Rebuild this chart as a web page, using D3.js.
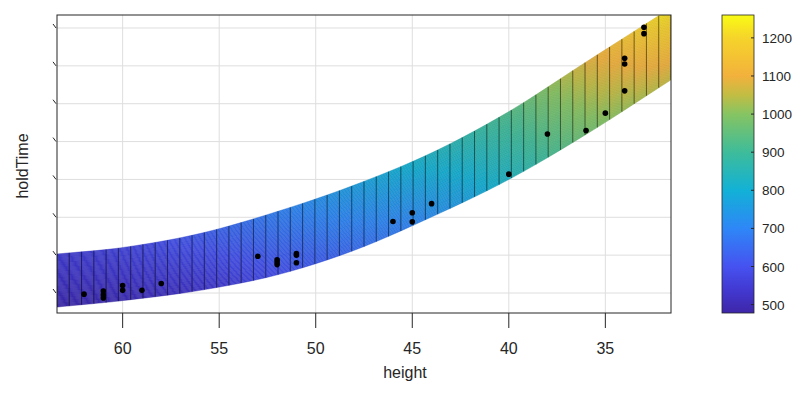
<!DOCTYPE html>
<html>
<head>
<meta charset="utf-8">
<style>
  body { margin: 0; background: #fff; }
  text { font-family: "Liberation Sans", Arial, sans-serif; fill: #262626; }
</style>
</head>
<body>
<svg width="807" height="394"></svg>
<script src="https://d3js.org/d3.v7.min.js"></script>
<script>
// fitted surface: band edges (holdTime) and edge colour values, read at a few heights
var edgeHeights = [63.4, 60, 56, 52, 48, 44, 40, 36, 31.6];
var edgeTop     = [603, 620, 657, 715, 785, 870, 979, 1110, 1253];
var edgeBottom  = [463, 480, 507, 548, 613, 701, 800, 919, 1063];
var colorTop    = [555, 575, 625, 690, 760, 830, 925, 1080, 1240];
var colorBottom = [495, 508, 535, 595, 650, 715, 830, 970, 1060];

// measured points
var pointHeight = [62, 61, 61, 61, 60, 60, 59, 58, 53, 52, 52, 52, 51, 51, 51,
                   46, 45, 45, 44, 40, 38, 36, 35, 34, 34, 34, 33, 33];
var pointHold   = [497, 505, 495, 487, 520, 507, 507, 525, 597, 588, 582, 575, 604, 600, 580,
                   689, 712, 688, 736, 814, 920, 929, 975, 1034, 1105, 1120, 1202, 1185];

var xTicks = [60, 55, 50, 45, 40, 35];
var yTicks = [500, 600, 700, 800, 900, 1000, 1100, 1200];
var cbTicks = [500, 600, 700, 800, 900, 1000, 1100, 1200];

// parula-like colormap
var cmapValues = [478, 540, 600, 700, 800, 900, 1000, 1050, 1100, 1200, 1260];
var cmapColors = ["#3e26a8", "#4239d2", "#4652f0", "#2e87f7", "#12b1d6", "#3ebc9a",
                  "#86c462", "#c2bd44", "#f2b13c", "#f6d42a", "#f9fb15"];

var svg = d3.select("svg");
var pL = 57, pR = 671, pT = 15, pB = 313;

var x = d3.scaleLinear().domain([63.4, 31.6]).range([pL, pR]);
var y = d3.scaleLinear().domain([447.2, 1234.3]).range([pB, pT]);
var color = d3.scaleLinear().domain(cmapValues).range(cmapColors).clamp(true);

// smooth curve through the read-off edge values
function smooth(xs, ys) {
  var n = xs.length, m = [];
  for (var i = 0; i < n; i++) {
    var a = Math.max(0, i - 1), b = Math.min(n - 1, i + 1);
    m.push((ys[b] - ys[a]) / (xs[b] - xs[a]));
  }
  return function (v) {
    var i = 0;
    while (i < n - 2 && (v - xs[i + 1]) * (xs[1] - xs[0]) > 0) i++;
    var h = xs[i + 1] - xs[i], t = (v - xs[i]) / h, t2 = t * t, t3 = t2 * t;
    return (2 * t3 - 3 * t2 + 1) * ys[i] + (t3 - 2 * t2 + t) * h * m[i] +
      (-2 * t3 + 3 * t2) * ys[i + 1] + (t3 - t2) * h * m[i + 1];
  };
}
var topAt = smooth(edgeHeights, edgeTop);
var botAt = smooth(edgeHeights, edgeBottom);
var cTopAt = smooth(edgeHeights, colorTop);
var cBotAt = smooth(edgeHeights, colorBottom);

var defs = svg.append("defs");
defs.append("clipPath").attr("id", "plot")
  .append("rect").attr("x", pL).attr("y", pT)
  .attr("width", pR - pL).attr("height", pB - pT);

// grid
var grid = svg.append("g").attr("stroke", "#dedede").attr("stroke-width", 1);
grid.selectAll(".gx").data(xTicks).enter().append("line")
  .attr("x1", d => x(d)).attr("x2", d => x(d)).attr("y1", pT).attr("y2", pB);
grid.selectAll(".gy").data(yTicks).enter().append("line")
  .attr("x1", pL).attr("x2", pR).attr("y1", d => y(d)).attr("y2", d => y(d));

// surface mesh
var nCol = 50, nRow = 50;
var gridH = d3.range(nCol + 1).map(k => d3.interpolateNumber(63.4, 31.6)(k / nCol));
function py(h, t) { return y(botAt(h) + (topAt(h) - botAt(h)) * t); }
function pz(h, t) { return cBotAt(h) + (cTopAt(h) - cBotAt(h)) * t; }

var surf = svg.append("g").attr("clip-path", "url(#plot)");
var cells = [];
for (var k = 0; k < nCol; k++) {
  for (var j = 0; j < nRow; j++) {
    cells.push({ h0: gridH[k], h1: gridH[k + 1], t0: j / nRow, t1: (j + 1) / nRow });
  }
}
surf.selectAll(".cell").data(cells).enter().append("path")
  .attr("d", c => "M" + x(c.h0) + "," + py(c.h0, c.t0) +
    "L" + x(c.h1) + "," + py(c.h1, c.t0) +
    "L" + x(c.h1) + "," + py(c.h1, c.t1) +
    "L" + x(c.h0) + "," + py(c.h0, c.t1) + "Z")
  .each(function (c) {
    var col = color(pz((c.h0 + c.h1) / 2, (c.t0 + c.t1) / 2));
    d3.select(this).attr("fill", col).attr("stroke", col).attr("stroke-width", 0.4);
  });

var rowLine = d3.line().x(d => x(d[0])).y(d => py(d[0], d[1]));
surf.selectAll(".row").data(d3.range(nRow + 1)).enter().append("path")
  .attr("d", j => rowLine(gridH.map(h => [h, j / nRow])))
  .attr("fill", "none").attr("stroke", "#000").attr("stroke-opacity", 0.2)
  .attr("stroke-width", 0.5);
surf.selectAll(".col").data(gridH).enter().append("line")
  .attr("x1", h => x(h)).attr("x2", h => x(h))
  .attr("y1", h => py(h, 0)).attr("y2", h => py(h, 1))
  .attr("stroke", "#000").attr("stroke-opacity", 0.72).attr("stroke-width", 0.7);

// points
surf.selectAll(".pt").data(pointHeight).enter().append("circle")
  .attr("cx", (d, i) => x(d)).attr("cy", (d, i) => y(pointHold[i]))
  .attr("r", 2.8).attr("fill", "#000");

// axes box
svg.append("rect").attr("x", pL).attr("y", pT)
  .attr("width", pR - pL).attr("height", pB - pT)
  .attr("fill", "none").attr("stroke", "#262626").attr("stroke-width", 1);

svg.selectAll(".xt").data(xTicks).enter().append("line")
  .attr("x1", d => x(d)).attr("x2", d => x(d)).attr("y1", pB).attr("y2", pB + 15)
  .attr("stroke", "#262626");
svg.selectAll(".xl").data(xTicks).enter().append("text")
  .attr("x", d => x(d)).attr("y", 354).attr("text-anchor", "middle")
  .attr("font-size", 16).text(d => d);

svg.selectAll(".yt").data(yTicks).enter().append("line")
  .attr("x1", pL - 4).attr("x2", pL - 1)
  .attr("y1", d => y(d) - 4).attr("y2", d => y(d))
  .attr("stroke", "#262626");

svg.append("text").attr("x", 405).attr("y", 378).attr("text-anchor", "middle")
  .attr("font-size", 16).text("height");
svg.append("text").attr("transform", "translate(27.5,166) rotate(-90)")
  .attr("text-anchor", "middle").attr("font-size", 16).text("holdTime");

// colorbar
var cbLeft = 722, cbRight = 754;
var cb = d3.scaleLinear().domain([478, 1260]).range([pB, pT]);
var grad = defs.append("linearGradient").attr("id", "cbar")
  .attr("x1", 0).attr("y1", 1).attr("x2", 0).attr("y2", 0);
grad.selectAll("stop").data(cmapValues).enter().append("stop")
  .attr("offset", d => (d - 478) / (1260 - 478))
  .attr("stop-color", d => color(d));
svg.append("rect").attr("x", cbLeft).attr("y", pT)
  .attr("width", cbRight - cbLeft).attr("height", pB - pT)
  .attr("fill", "url(#cbar)").attr("stroke", "#262626").attr("stroke-width", 0.8);
svg.selectAll(".cbt").data(cbTicks).enter().append("line")
  .attr("x1", cbRight - 3).attr("x2", cbRight).attr("y1", d => cb(d)).attr("y2", d => cb(d))
  .attr("stroke", "#262626");
svg.selectAll(".cbl").data(cbTicks).enter().append("text")
  .attr("x", 762).attr("y", d => cb(d) + 5).attr("font-size", 13.5).text(d => d);
</script>
</body>
</html>
